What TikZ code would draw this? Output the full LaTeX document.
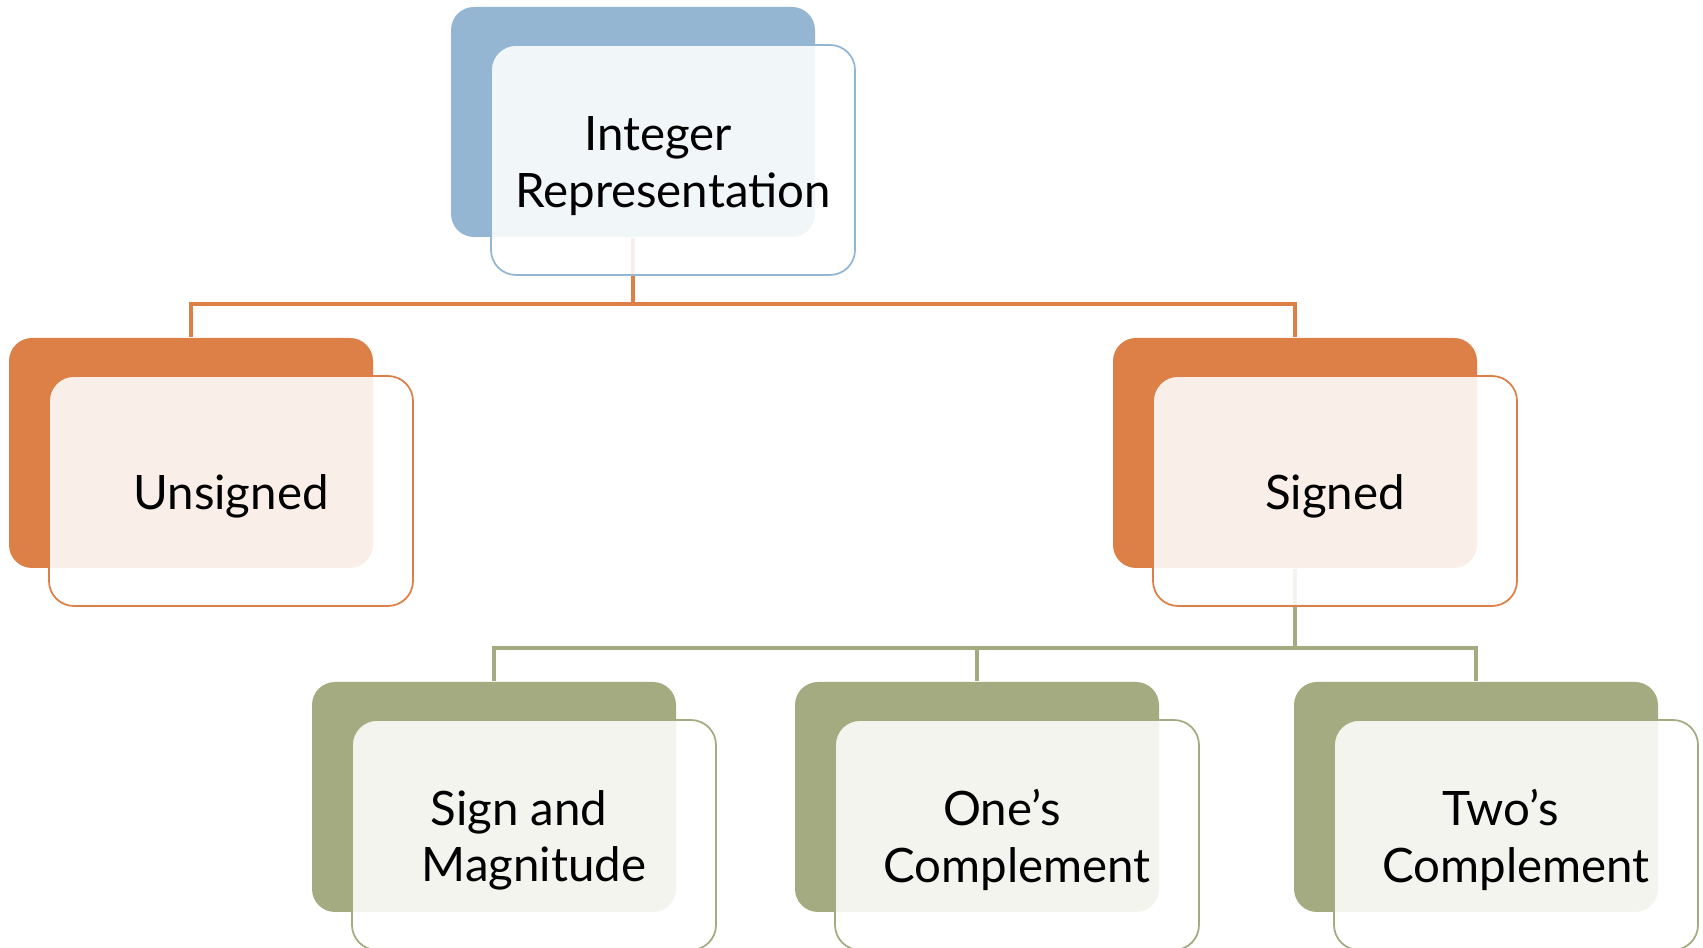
\documentclass[tikz,border=0pt]{standalone}
\usepackage{fontspec}
\setmainfont{Lato}
\usetikzlibrary{positioning}
\definecolor{blueback}{HTML}{94B6D2}
\definecolor{orangeback}{HTML}{DD8047}
\definecolor{greenback}{HTML}{A5AB81}
\newcommand\lift{\rule{0pt}{0.46cm}}

\begin{document}
\begin{tikzpicture}[
    back/.style={fill=#1, rounded corners=0.23cm, minimum width=3.64cm, minimum height=2.30cm, inner sep=0pt},
    card/.style={draw=#1, line width=0.5pt, fill=white, fill opacity=0.88, text opacity=1, rounded corners=0.25cm,
        minimum width=3.64cm, minimum height=2.30cm, inner sep=0pt, align=center,
        font=\fontsize{13.5}{16}\selectfont, xshift=0.40cm, yshift=-0.38cm},
    link/.style={draw=#1, line width=0.9pt}
]
\useasboundingbox (0,0) rectangle (17.03,-9.48);

\node[back=blueback] (topb) at (6.33,-1.22) {};
\node[back=orangeback] (unsb) at (1.91,-4.53) {};
\node[back=orangeback] (sigb) at (12.95,-4.53) {};
\node[back=greenback] (smb) at (4.94,-7.97) {};
\node[back=greenback] (oneb) at (9.77,-7.97) {};
\node[back=greenback] (twob) at (14.76,-7.97) {};

\coordinate (join1) at (6.33,-3.04);
\coordinate (join2) at (12.95,-6.48);

\draw[link=orangeback] (topb.south) -- (join1);
\draw[link=orangeback] (unsb.north) |- (join1) -| (sigb.north);
\draw[link=greenback] (sigb.south) -- (join2);
\draw[link=greenback] (smb.north) |- (join2) -| (twob.north);
\draw[link=greenback] (oneb.north |- join2) -- (oneb.north);

\node[card=blueback] (top) at (topb) {\lift Integer\kern0.3cm\\Representation};
\node[card=orangeback] (uns) at (unsb) {\lift Unsigned};
\node[card=orangeback] (sig) at (sigb) {\lift Signed};
\node[card=greenback] (sm) at (smb) {\lift Sign and\kern0.3cm\\Magnitude};
\node[card=greenback] (one) at (oneb) {\lift One’s\kern0.3cm\\Complement};
\node[card=greenback] (two) at (twob) {\lift Two’s\kern0.3cm\\Complement};
\end{tikzpicture}
\end{document}
